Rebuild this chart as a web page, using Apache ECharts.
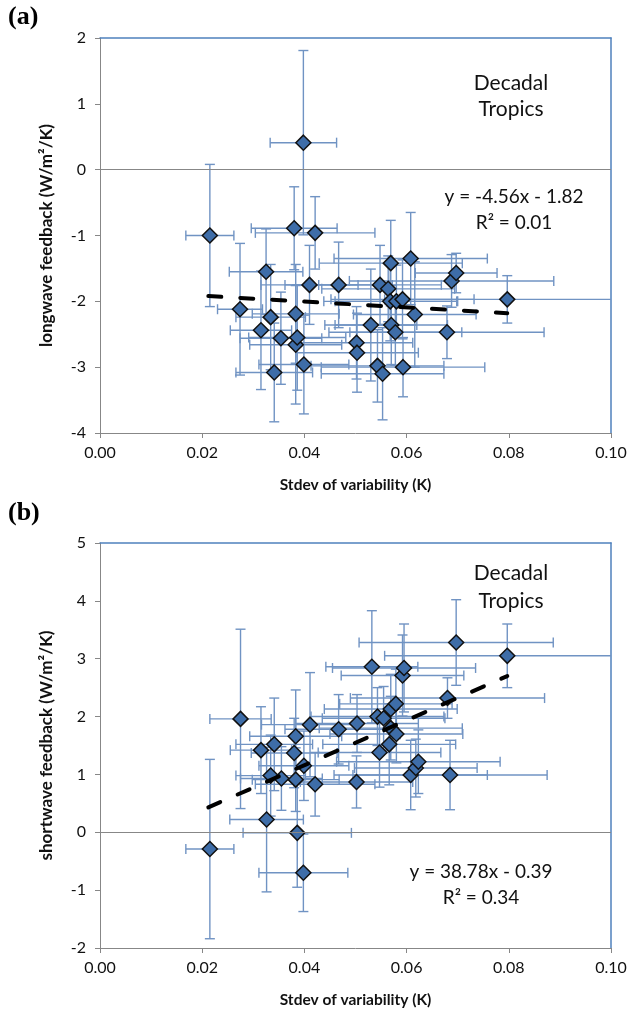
<!DOCTYPE html>
<html><head><meta charset="utf-8">
<script src="https://cdn.jsdelivr.net/npm/echarts@6/dist/echarts.min.js"></script>
<style>html,body{margin:0;padding:0;background:#fff}#c{width:632px;height:1011px}</style>
</head><body><div id="c"></div>
<script>
// ---------- DATA ----------
// Panel (a): longwave feedback
const xA  = [0.0215,0.0274,0.0315,0.0325,0.0334,0.0341,0.0354,0.0380,0.0383,0.0383,0.0386,0.0398,0.0399,0.0410,0.0421,0.0467,0.0502,0.0503,0.0530,0.0543,0.0548,0.0553,0.0564,0.0568,0.0569,0.0570,0.0578,0.0580,0.0592,0.0593,0.0608,0.0616,0.0679,0.0688,0.0697,0.0797];
const yA  = [-1.00,-2.12,-2.44,-1.55,-2.24,-3.08,-2.56,-0.89,-2.19,-2.66,-2.55,0.41,-2.96,-1.75,-0.96,-1.75,-2.63,-2.78,-2.36,-2.98,-1.75,-3.10,-1.81,-2.00,-1.42,-2.36,-2.47,-2.00,-1.97,-3.00,-1.35,-2.20,-2.47,-1.69,-1.57,-1.97];
const exA = [0.0047,0.0044,0.0060,0.0072,0.0068,0.0075,0.0080,0.0084,0.0085,0.0090,0.0095,0.0065,0.0088,0.0095,0.0117,0.0105,0.0110,0.0120,0.0090,0.0130,0.0120,0.0120,0.0130,0.0130,0.0140,0.0110,0.0130,0.0120,0.0140,0.0160,0.0150,0.0120,0.0190,0.0200,0.0080,0.0240];
const eyA = [1.08,1.00,0.90,0.65,0.80,0.75,0.70,0.63,0.75,0.90,0.80,1.40,0.75,0.60,0.55,0.65,0.55,0.60,0.85,0.55,0.60,0.70,0.50,0.60,0.65,0.60,0.50,0.55,0.60,0.45,0.70,0.80,0.40,0.40,0.30,0.36];
const trendAX = [0.0212, 0.0797];
const trendAY = [-1.92, -2.18];

// Panel (b): shortwave feedback
const xB  = [0.0215,0.0275,0.0315,0.0326,0.0334,0.0341,0.0355,0.0380,0.0383,0.0383,0.0386,0.0398,0.0399,0.0411,0.0421,0.0467,0.0502,0.0503,0.0532,0.0543,0.0547,0.0555,0.0566,0.0569,0.0569,0.0579,0.0580,0.0592,0.0595,0.0608,0.0618,0.0623,0.0680,0.0685,0.0697,0.0797];
const yB  = [-0.29,1.96,1.42,0.22,0.98,1.52,0.93,1.37,0.91,1.66,-0.01,-0.70,1.15,1.86,0.83,1.78,0.87,1.88,2.86,2.00,1.38,1.97,1.52,2.13,1.80,2.22,1.70,2.71,2.84,0.99,1.11,1.22,2.32,0.99,3.28,3.05];
const exB = [0.0047,0.0060,0.0060,0.0072,0.0068,0.0075,0.0080,0.0084,0.0085,0.0090,0.0106,0.0087,0.0088,0.0095,0.0117,0.0105,0.0110,0.0120,0.0090,0.0130,0.0120,0.0120,0.0130,0.0130,0.0140,0.0110,0.0130,0.0120,0.0140,0.0150,0.0120,0.0160,0.0190,0.0190,0.0190,0.0240];
const eyB = [1.55,1.55,0.75,1.25,0.70,0.80,0.55,0.60,0.55,0.80,0.94,0.67,0.60,0.90,0.55,0.60,0.45,0.50,0.97,0.50,0.60,0.55,0.70,0.60,0.55,0.60,0.50,0.70,0.76,0.60,0.50,0.55,0.35,0.60,0.74,0.55];
const trendBX = [0.0212, 0.0797];
const trendBY = [0.43, 2.70];

const X_TICK_LABELS = ['0.00','0.02','0.04','0.06','0.08','0.10'];
const TEXTS = {
  yNameA: 'longwave feedback (W/m\u00B2/K)',
  yNameB: 'shortwave feedback (W/m\u00B2/K)',
  xName: 'Stdev of variability (K)',
  labelA: '(a)', labelB: '(b)',
  region: 'Decadal\nTropics',
  eqA: 'y = -4.56x - 1.82\nR\u00B2 = 0.01',
  eqB: 'y = 38.78x - 0.39\nR\u00B2 = 0.34'
};

// ---------- STYLE ----------
const FONT = 'Lato, "Open Sans", sans-serif';
const AXIS_GREY = '#878787';
const BORDER_BLUE = '#4F81BD';
const ERR_COLOR = '#7093C3';
const MARK_FILL = '#3E6DA8';

const chart = echarts.init(document.getElementById('c'), null, {renderer: 'canvas'});

function pack(xs, ys, exs, eys) {
  return xs.map((x, i) => [x, ys[i], exs[i], eys[i]]);
}
function pts(xs, ys) { return xs.map((x, i) => [x, ys[i]]); }

function errRender(params, api) {
  const x = api.value(0), y = api.value(1), ex = api.value(2), ey = api.value(3);
  const l = api.coord([x - ex, y]), r = api.coord([x + ex, y]);
  const t = api.coord([x, y + ey]), b = api.coord([x, y - ey]);
  const c = 5;
  const st = {stroke: ERR_COLOR, lineWidth: 1.4};
  const cs = params.coordSys;
  return {
    type: 'group',
    clipPath: {type: 'rect', shape: {x: cs.x, y: cs.y, width: cs.width, height: cs.height}},
    children: [
      {type: 'line', shape: {x1: l[0], y1: l[1], x2: r[0], y2: r[1]}, style: st},
      {type: 'line', shape: {x1: l[0], y1: l[1] - c, x2: l[0], y2: l[1] + c}, style: st},
      {type: 'line', shape: {x1: r[0], y1: r[1] - c, x2: r[0], y2: r[1] + c}, style: st},
      {type: 'line', shape: {x1: t[0], y1: t[1], x2: b[0], y2: b[1]}, style: st},
      {type: 'line', shape: {x1: t[0] - c, y1: t[1], x2: t[0] + c, y2: t[1]}, style: st},
      {type: 'line', shape: {x1: b[0] - c, y1: b[1], x2: b[0] + c, y2: b[1]}, style: st}
    ]
  };
}

function bottomX(grid) {
  return {
    type: 'value', gridIndex: grid, position: 'bottom', min: 0, max: 0.1, interval: 0.02,
    name: TEXTS.xName, nameLocation: 'middle', nameGap: 44,
    nameTextStyle: {fontFamily: FONT, fontWeight: 'bold', fontSize: 15.5, color: '#111'},
    axisLine: {show: true, onZero: false, lineStyle: {color: AXIS_GREY, width: 1}},
    axisTick: {show: true, inside: false, length: 5, lineStyle: {color: AXIS_GREY}},
    axisLabel: {fontFamily: FONT, fontSize: 16, color: '#111', margin: 12,
      formatter: v => X_TICK_LABELS[Math.round(v / 0.02)]},
    splitLine: {show: false}
  };
}
function topX(grid) {
  return {
    type: 'value', gridIndex: grid, position: 'top', min: 0, max: 0.1,
    axisLine: {show: true, onZero: false, lineStyle: {color: BORDER_BLUE, width: 1.5}},
    axisTick: {show: false}, axisLabel: {show: false}, splitLine: {show: false}
  };
}
function leftY(grid, min, max, name) {
  return {
    type: 'value', gridIndex: grid, position: 'left', min: min, max: max, interval: 1,
    name: name, nameLocation: 'middle', nameGap: 45, nameRotate: 90,
    nameTextStyle: {fontFamily: FONT, fontWeight: 'bold', fontSize: 17, color: '#111'},
    axisLine: {show: true, onZero: false, lineStyle: {color: AXIS_GREY, width: 1}},
    axisTick: {show: true, length: 5, lineStyle: {color: AXIS_GREY}},
    axisLabel: {fontFamily: FONT, fontSize: 16, color: '#111', margin: 14},
    splitLine: {show: false}
  };
}
function rightY(grid, min, max) {
  return {
    type: 'value', gridIndex: grid, position: 'right', min: min, max: max,
    axisLine: {show: true, onZero: false, lineStyle: {color: BORDER_BLUE, width: 1.5}},
    axisTick: {show: false}, axisLabel: {show: false}, splitLine: {show: false}
  };
}

function panelSeries(xi, yi, errData, scatterData, trendData) {
  return [
    {
      type: 'custom', xAxisIndex: xi, yAxisIndex: yi, renderItem: errRender,
      data: errData, z: 2, silent: true, animation: false,
      markLine: {
        silent: true, symbol: 'none', animation: false, label: {show: false},
        lineStyle: {color: AXIS_GREY, width: 1.2, type: 'solid'},
        data: [{yAxis: 0}]
      }
    },
    {
      type: 'scatter', xAxisIndex: xi, yAxisIndex: yi, data: scatterData,
      symbol: 'diamond', symbolSize: 15, z: 3, animation: false,
      itemStyle: {color: MARK_FILL, borderColor: '#111', borderWidth: 1.5, opacity: 1}
    },
    {
      type: 'line', xAxisIndex: xi, yAxisIndex: yi, data: trendData,
      symbol: 'none', z: 4, animation: false, silent: true,
      lineStyle: {color: '#000', width: 4, type: [13, 19], cap: 'round'}
    }
  ];
}

const option = {
  backgroundColor: '#fff',
  animation: false,
  grid: [
    {left: 100, top: 38, width: 511, height: 395, containLabel: false},
    {left: 100, top: 543, width: 511, height: 405, containLabel: false}
  ],
  xAxis: [bottomX(0), topX(0), bottomX(1), topX(1)],
  yAxis: [leftY(0, -4, 2, TEXTS.yNameA), rightY(0, -4, 2), leftY(1, -2, 5, TEXTS.yNameB), rightY(1, -2, 5)],
  series: [].concat(
    panelSeries(0, 0, pack(xA, yA, exA, eyA), pts(xA, yA), pts(trendAX, trendAY)),
    panelSeries(2, 2, pack(xB, yB, exB, eyB), pts(xB, yB), pts(trendBX, trendBY))
  ),
  graphic: [
    {type: 'text', left: 8, top: 4, style: {text: TEXTS.labelA, font: 'bold 26px "Liberation Serif", "DejaVu Serif", serif', fill: '#000'}},
    {type: 'text', left: 8, top: 500, style: {text: TEXTS.labelB, font: 'bold 26px "Liberation Serif", "DejaVu Serif", serif', fill: '#000'}},
    {type: 'text', x: 511, y: 96, style: {text: TEXTS.region, fontFamily: FONT, fontSize: 21, lineHeight: 26, fill: '#111', align: 'center', verticalAlign: 'middle'}},
    {type: 'text', x: 514, y: 210, style: {text: TEXTS.eqA, fontFamily: FONT, fontSize: 19, lineHeight: 26, fill: '#111', align: 'center', verticalAlign: 'middle'}},
    {type: 'text', x: 511, y: 587, style: {text: TEXTS.region, fontFamily: FONT, fontSize: 21, lineHeight: 28, fill: '#111', align: 'center', verticalAlign: 'middle'}},
    {type: 'text', x: 481, y: 885, style: {text: TEXTS.eqB, fontFamily: FONT, fontSize: 19, lineHeight: 26, fill: '#111', align: 'center', verticalAlign: 'middle'}}
  ]
};
chart.setOption(option);
</script>
</body></html>
